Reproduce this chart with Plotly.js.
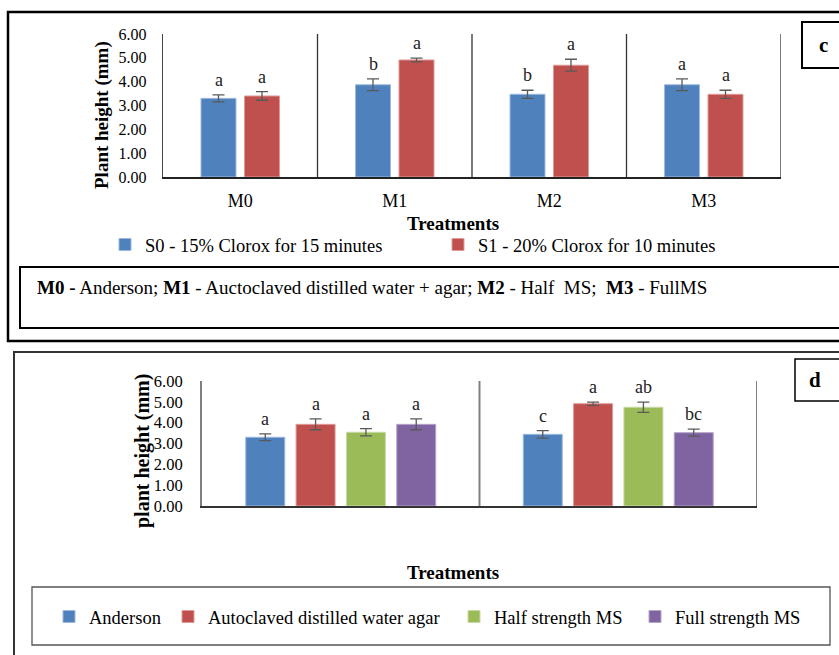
<!DOCTYPE html>
<html>
<head>
<meta charset="utf-8">
<script src="https://cdn.plot.ly/plotly-3.0.1.min.js"></script>
<style>html,body{margin:0;padding:0;background:#fff;}#chart{width:839px;height:655px;}</style>
</head>
<body>
<div id="chart"></div>
<script>
// ---- Panel c data ----
const cCategories = ['M0', 'M1', 'M2', 'M3'];
const cS0Values = [3.30, 3.87, 3.47, 3.87];
const cS0Errors = [0.15, 0.25, 0.17, 0.25];
const cS0Letters = ['a', 'b', 'b', 'a'];
const cS1Values = [3.40, 4.91, 4.69, 3.47];
const cS1Errors = [0.18, 0.08, 0.25, 0.17];
const cS1Letters = ['a', 'a', 'a', 'a'];
const cSeriesNames = ['S0 - 15% Clorox for 15 minutes', 'S1 - 20% Clorox for 10 minutes'];

// ---- Panel d data ----
const dCategories = ['S0', 'S1'];
const dAndersonValues = [3.30, 3.44];
const dAndersonErrors = [0.16, 0.18];
const dAndersonLetters = ['a', 'c'];
const dAutoclavedValues = [3.92, 4.91];
const dAutoclavedErrors = [0.26, 0.08];
const dAutoclavedLetters = ['a', 'a'];
const dHalfMSValues = [3.54, 4.74];
const dHalfMSErrors = [0.17, 0.25];
const dHalfMSLetters = ['a', 'ab'];
const dFullMSValues = [3.92, 3.52];
const dFullMSErrors = [0.26, 0.17];
const dFullMSLetters = ['a', 'bc'];
const dSeriesNames = ['Anderson', 'Autoclaved distilled water agar', 'Half strength MS', 'Full strength MS'];

const W = 839, H = 655;
const px = v => v / W;
const py = v => 1 - v / H;
const FONT = 'Liberation Serif, Times New Roman, serif';

const colors = ['#4F81BD', '#C0504D', '#9BBB59', '#8064A2'];
const edges = ['#9DB9DE', '#DE9B99', '#C7DAA6', '#B5A5CB'];
const errColor = '#595959';

// geometry (category units)
const cWidth = 0.2265, cCenters = [-0.1408, 0.1408];
const dWidth = 0.1405, dCenters = [-0.272, -0.0907, 0.0907, 0.272];
// legend placements (left edge in px)
const cLegendLeft = [105, 438];
const dLegendLeft = [49, 168, 454, 635];

const traces = [];
const annotations = [];
const layoutLegends = {};

function legendSpec(leftPx, centerYPx) {
  return {orientation: 'h', x: px(leftPx), xanchor: 'left', y: py(centerYPx), yanchor: 'middle',
          bgcolor: 'rgba(0,0,0,0)', borderwidth: 0,
          font: {family: FONT, size: 18.5, color: '#000'}};
}

function addLetters(cats, vals, errs, letters, center, xref, yref) {
  cats.forEach((c, i) => {
    annotations.push({
      x: i + center, y: vals[i] + errs[i], xref: xref, yref: yref,
      text: letters[i], showarrow: false, xanchor: 'center', yanchor: 'bottom', yshift: 3,
      font: {family: FONT, size: 18, color: '#222'}
    });
  });
}

let legendIdx = 0;
function nextLegend() {
  legendIdx += 1;
  return legendIdx === 1 ? 'legend' : 'legend' + legendIdx;
}

const cSeries = [[cS0Values, cS0Errors, cS0Letters], [cS1Values, cS1Errors, cS1Letters]];
cSeries.forEach((s, k) => {
  const lg = nextLegend();
  layoutLegends[lg] = legendSpec(cLegendLeft[k], 245);
  traces.push({
    type: 'bar', x: cCategories, y: s[0], name: cSeriesNames[k],
    xaxis: 'x', yaxis: 'y', legend: lg,
    width: cWidth, offset: cCenters[k] - cWidth / 2,
    marker: {color: colors[k], line: {color: edges[k], width: 1}},
    error_y: {type: 'data', array: s[1], visible: true, color: errColor, thickness: 1.3, width: 6},
    hoverinfo: 'y'
  });
  addLetters(cCategories, s[0], s[1], s[2], cCenters[k], 'x', 'y');
});

const dSeries = [
  [dAndersonValues, dAndersonErrors, dAndersonLetters],
  [dAutoclavedValues, dAutoclavedErrors, dAutoclavedLetters],
  [dHalfMSValues, dHalfMSErrors, dHalfMSLetters],
  [dFullMSValues, dFullMSErrors, dFullMSLetters]
];
dSeries.forEach((s, k) => {
  const lg = nextLegend();
  layoutLegends[lg] = legendSpec(dLegendLeft[k], 617);
  traces.push({
    type: 'bar', x: dCategories, y: s[0], name: dSeriesNames[k],
    xaxis: 'x2', yaxis: 'y2', legend: lg,
    width: dWidth, offset: dCenters[k] - dWidth / 2,
    marker: {color: colors[k], line: {color: edges[k], width: 1}},
    error_y: {type: 'data', array: s[1], visible: true, color: errColor, thickness: 1.3, width: 6},
    hoverinfo: 'y'
  });
  addLetters(dCategories, s[0], s[1], s[2], dCenters[k], 'x2', 'y2');
});

function paperText(x, y, text, size, extra) {
  return Object.assign({x: px(x), y: py(y), xref: 'paper', yref: 'paper', text: text,
    showarrow: false, xanchor: 'center', yanchor: 'middle',
    font: {family: FONT, size: size, color: '#000'}}, extra || {});
}

annotations.push(
  paperText(102, 115, '<b>Plant height (mm)</b>', 19, {textangle: -90}),
  paperText(453, 224, '<b>Treatments</b>', 19),
  paperText(35, 287, '<b>M0 -</b> Anderson; <b>M1</b> - Auctoclaved distilled water + agar; <b>M2</b> - Half&nbsp; MS;&nbsp; <b>M3</b> - FullMS', 19, {xanchor: 'left'}),
  paperText(823, 45, '<b>c</b>', 21),
  paperText(815, 380, '<b>d</b>', 21),
  paperText(142, 451, '<b>plant height (mm)</b>', 20, {textangle: -90}),
  paperText(453, 572, '<b>Treatments</b>', 19)
);

const shapes = [
  {type: 'rect', xref: 'paper', yref: 'paper', x0: px(8), y0: py(12), x1: px(850), y1: py(341), line: {color: '#000', width: 2.5}},
  {type: 'rect', xref: 'paper', yref: 'paper', x0: px(20), y0: py(267), x1: px(850), y1: py(328), line: {color: '#000', width: 2}},
  {type: 'rect', xref: 'paper', yref: 'paper', x0: px(802), y0: py(22), x1: px(850), y1: py(68), line: {color: '#000', width: 2}},
  {type: 'rect', xref: 'paper', yref: 'paper', x0: px(14), y0: py(352), x1: px(850), y1: py(665), line: {color: '#333', width: 2}},
  {type: 'rect', xref: 'paper', yref: 'paper', x0: px(795), y0: py(359), x1: px(850), y1: py(401), line: {color: '#000', width: 1.5}},
  {type: 'rect', xref: 'paper', yref: 'paper', x0: px(32), y0: py(587), x1: px(830), y1: py(645), line: {color: '#555', width: 1.3}}
];
[0.5, 1.5, 2.5, 3.5].forEach(v => shapes.push({type: 'line', xref: 'x', yref: 'y domain', x0: v, x1: v, y0: 0, y1: 1, line: {color: '#333', width: 1.3}}));
[0.5, 1.5].forEach(v => shapes.push({type: 'line', xref: 'x2', yref: 'y2 domain', x0: v, x1: v, y0: 0, y1: 1, line: {color: '#808080', width: 2}}));

const layout = Object.assign({
  width: W, height: H, autosize: false,
  margin: {l: 0, r: 0, t: 0, b: 0},
  paper_bgcolor: '#fff', plot_bgcolor: 'rgba(0,0,0,0)',
  barmode: 'overlay',
  showlegend: true,
  font: {family: FONT, color: '#000'},
  xaxis: {domain: [px(163), px(781)], anchor: 'y', range: [-0.5, 3.5], type: 'category',
          showline: true, linecolor: '#222', linewidth: 1.5, showgrid: false, zeroline: false,
          ticks: 'outside', ticklen: 7, tickcolor: 'rgba(0,0,0,0)', tickfont: {family: FONT, size: 18, color: '#000'}},
  yaxis: {domain: [py(177), py(34)], anchor: 'x', range: [0, 6], dtick: 1, tickformat: '.2f',
          showline: true, linecolor: '#444', linewidth: 1.3, showgrid: false, zeroline: false,
          ticks: 'outside', ticklen: 12, tickcolor: 'rgba(0,0,0,0)', tickfont: {family: FONT, size: 16, color: '#000'}},
  xaxis2: {domain: [px(202), px(757)], anchor: 'y2', range: [-0.5, 1.5], type: 'category',
           showline: true, linecolor: '#333', linewidth: 2, showgrid: false, zeroline: false, showticklabels: false, ticks: ''},
  yaxis2: {domain: [py(506), py(381)], anchor: 'x2', range: [0, 6], dtick: 1, tickformat: '.2f',
           showline: true, linecolor: '#808080', linewidth: 2, showgrid: false, zeroline: false,
           ticks: 'outside', ticklen: 14, tickcolor: 'rgba(0,0,0,0)', tickfont: {family: FONT, size: 16.5, color: '#000'}},
  annotations: annotations,
  shapes: shapes
}, layoutLegends);

Plotly.newPlot('chart', traces, layout, {displayModeBar: false, staticPlot: true});
</script>
</body>
</html>
